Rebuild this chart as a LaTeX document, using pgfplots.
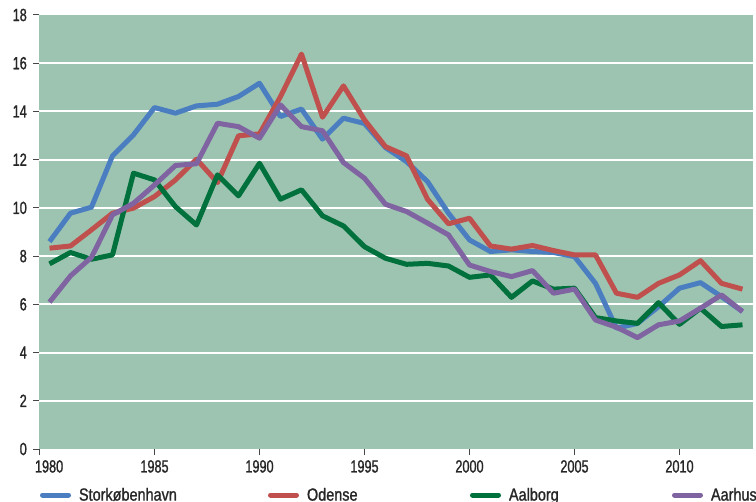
\documentclass[border=0pt]{standalone}
\usepackage{pgfplots}
\pgfplotsset{compat=1.18}
\usepackage{pgfplotstable}
\usepackage{fontspec}
\setmainfont{Liberation Sans}
\newfontfamily\tickfont{Liberation Sans}[FakeStretch=0.72, FakeBold=1.2]
\newfontfamily\legfont{Liberation Sans}[FakeStretch=0.82, FakeBold=1.2]

\definecolor{bgfill}{RGB}{157,196,176}
\definecolor{cblue}{RGB}{74,126,193}
\definecolor{cred}{RGB}{192,80,77}
\definecolor{cgreen}{RGB}{0,112,60}
\definecolor{cpurple}{RGB}{128,100,162}
\definecolor{tickgray}{RGB}{70,70,70}

% year, Storkøbenhavn, Odense, Aalborg, Aarhus
\pgfplotstableread{
year sto ode aal aar
1980 8.60 8.33 7.68 6.09
1981 9.78 8.42 8.15 7.18
1982 10.03 9.09 7.87 7.95
1983 12.16 9.78 8.05 9.71
1984 13.03 9.99 11.44 10.19
1985 14.16 10.47 11.16 10.95
1986 13.93 11.16 10.05 11.76
1987 14.23 12.02 9.29 11.83
1988 14.30 11.05 11.37 13.51
1989 14.62 12.99 10.50 13.37
1990 15.17 13.07 11.85 12.89
1991 13.79 14.62 10.36 14.27
1992 14.10 16.38 10.75 13.37
1993 12.85 13.76 9.67 13.20
1994 13.72 15.06 9.25 11.88
1995 13.50 13.65 8.39 11.23
1996 12.50 12.54 7.91 10.15
1997 11.92 12.16 7.66 9.85
1998 11.09 10.36 7.70 9.37
1999 9.78 9.34 7.59 8.88
2000 8.67 9.57 7.12 7.63
2001 8.19 8.42 7.22 7.36
2002 8.26 8.29 6.29 7.15
2003 8.19 8.44 6.97 7.40
2004 8.15 8.23 6.63 6.46
2005 7.98 8.05 6.67 6.63
2006 6.87 8.05 5.45 5.35
2007 5.01 6.46 5.31 5.05
2008 5.21 6.29 5.21 4.62
2009 5.90 6.87 6.07 5.15
2010 6.67 7.22 5.17 5.31
2011 6.90 7.81 5.84 5.84
2012 6.32 6.87 5.08 6.39
2013 5.70 6.63 5.15 5.70
}\datatable

\begin{document}
\begin{tikzpicture}
\useasboundingbox (-39bp,-53bp) rectangle (717bp,449bp);
\begin{axis}[
  at={(0,0)}, anchor=south west,
  scale only axis,
  width=714bp, height=434bp,
  xmin=1979.5, xmax=2013.5,
  ymin=0, ymax=18,
  axis x line*=bottom, axis y line*=left,
  axis line style={draw=none},
  axis background/.style={fill=bgfill},
  xtick={1979.5,1985,1990,1995,2000,2005,2010},
  xticklabels={\makebox[0pt][l]{\hspace{-4bp}1980},1985,1990,1995,2000,2005,2010},
  ytick={0,2,...,18},
  extra y ticks={2,4,...,16},
  extra y tick labels={},
  extra y tick style={ymajorgrids=true},
  grid style={white, line width=2bp},
  tick align=outside,
  major tick length=6bp,
  tick style={draw=tickgray, line width=1bp},
  /pgf/number format/assume math mode=true,
  yticklabel style={font=\tickfont\fontsize{17.6bp}{20bp}\selectfont, text=black!85,
    anchor=east, inner sep=0pt, xshift=-6bp},
  xticklabel style={font=\tickfont\fontsize{17.6bp}{20bp}\selectfont, text=black!85,
    anchor=north, inner sep=0pt, yshift=-5bp},
  legend columns=4,
  legend cell align=left,
  legend style={at={(axis description cs:0.0014,-0.106)}, anchor=west,
    draw=none, fill=none, inner sep=0pt, outer sep=0pt,
    nodes={inner sep=0pt, text=black!85, font=\legfont\fontsize{17.6bp}{20bp}\selectfont}},
  legend image code/.code={\draw[#1, line cap=round] (0bp,0bp) -- (26bp,0bp); \path (34bp,0bp);},
  every axis plot/.append style={line width=5bp, line join=round},
]
\addplot[cblue] table[x=year, y=sto] {\datatable};
\addlegendentry{\makebox[189bp][l]{Storkøbenhavn}}
\addplot[cred] table[x=year, y=ode] {\datatable};
\addlegendentry{\makebox[163bp][l]{Odense}}
\addplot[cgreen] table[x=year, y=aal] {\datatable};
\addlegendentry{\makebox[163bp][l]{Aalborg}}
\addplot[cpurple] table[x=year, y=aar] {\datatable};
\addlegendentry{Aarhus}
\end{axis}
\end{tikzpicture}
\end{document}
